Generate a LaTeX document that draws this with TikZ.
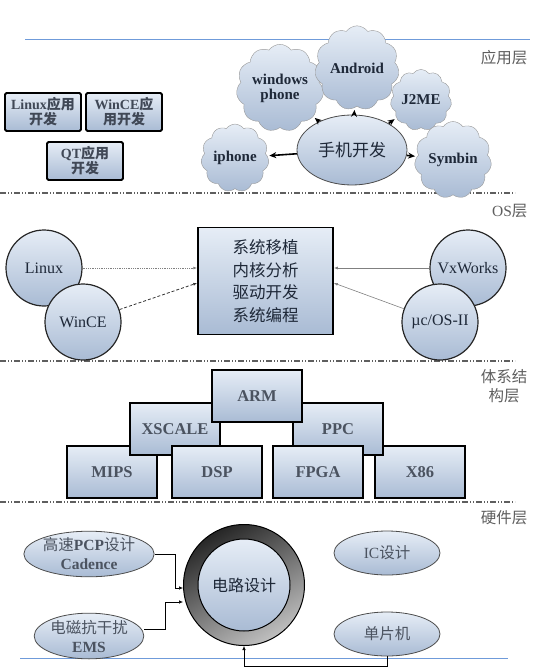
\documentclass[tikz,border=0pt]{standalone}
\usepackage{fontspec}
\setmainfont{Liberation Serif}
\newfontfamily\cjk{Noto Sans CJK SC}
\usetikzlibrary{positioning,shapes.geometric,shapes.symbols,arrows.meta}

\definecolor{fillhi}{HTML}{E6EDF6}
\definecolor{filllo}{HTML}{A9BBD4}
\definecolor{txt}{HTML}{1E2838}
\definecolor{layerblue}{HTML}{6F9BDA}
\definecolor{layergray}{HTML}{5E5E5E}

\begin{document}
\begin{tikzpicture}[x=1pt,y=-1pt,
    bluefill/.style={top color=fillhi, bottom color=filllo},
    appbox/.style={draw=black, line width=1.8pt, rounded corners=1.5pt, bluefill,
      minimum width=76, minimum height=38, align=center, inner sep=0pt,
      font=\fontsize{14}{15}\selectfont\bfseries, text=txt!85},
    puff/.style={cloud, cloud puffs=11, cloud puff arc=110, draw=gray!80, bluefill,
      inner sep=0pt, align=center, font=\fontsize{15}{15}\selectfont\bfseries, text=txt},
    fatarrow/.style={-{Stealth[length=7pt,width=6pt]}, line width=1.6pt, shorten >=2pt},
    osball/.style={circle, draw=black!85, line width=1.2pt, bluefill, minimum size=76,
      inner sep=0pt, font=\fontsize{16}{16}\selectfont, text=txt},
    chip/.style={draw=black, line width=1.1pt, bluefill, minimum width=90,
      minimum height=52, font=\fontsize{16.5}{16.5}\selectfont\bfseries, text=txt!80},
    hwoval/.style={ellipse, draw=black!70, line width=0.8pt, bluefill, minimum width=106,
      minimum height=44, inner sep=0pt, align=center, text=txt!80,
      font=\fontsize{15.5}{19}\selectfont},
    hwarrow/.style={-{Latex[length=4pt,width=3.5pt]}, line width=0.6pt},
    layerline/.style={layergray, line width=1.2pt,
      dash pattern=on 6pt off 2pt on 1pt off 2pt on 1pt off 2pt},
    layerlbl/.style={text=layergray, font=\fontsize{15.5}{19}\selectfont\cjk, align=center}
  ]
  \useasboundingbox (0,0) rectangle (540,671);

  % Layer borders
  \draw[layerblue, line width=1pt] (25,40) -- (530,40);
  \draw[layerline] (0,193) -- (515,193);
  \draw[layerline] (0,361) -- (515,361);
  \draw[layerline] (0,502) -- (515,502);
  \draw[layerblue, line width=1pt] (20,658) -- (508,658);

  % Layer names
  \node[layerlbl, anchor=east] (lapp) at (531,58) {应用层};
  \node[layerlbl, anchor=east] (los) at (531,211) {\rmfamily OS{\cjk 层}};
  \node[layerlbl] (larch) at (504,386) {体系结\\构层};
  \node[layerlbl, anchor=east] (lhw) at (531,518) {硬件层};

  % Application layer
  \node[appbox] (linuxapp) at (43,112) {Linux{\cjk 应用}\\{\cjk 开发}};
  \node[appbox] (winceapp) at (124,112) {WinCE{\cjk 应}\\{\cjk 用开发}};
  \node[appbox] (qtapp) at (85,161) {QT{\cjk 应用}\\{\cjk 开发}};

  \node[ellipse, draw=black!70, line width=0.8pt, bluefill, minimum width=110,
    minimum height=70, font=\fontsize{17}{17}\selectfont\cjk, text=txt] (phone) at (352,150) {手机开发};
  \node[puff, minimum width=64, minimum height=58] (iphone) at (235,158) {iphone};
  \node[puff, minimum width=78, minimum height=76] (winphone) at (280,88) {windows\\phone};
  \node[puff, minimum width=68, minimum height=68] (android) at (357,68) {Android};
  \node[puff, minimum width=50, minimum height=60] (j2me) at (421,100) {J2ME};
  \node[puff, minimum width=62, minimum height=56] (symbin) at (453,160) {Symbin};
  \foreach \c in {iphone,winphone,android,j2me,symbin}{
    \draw[fatarrow] (phone) -- (\c);
  }

  % OS layer
  \node[draw=black, line width=1.5pt, bluefill, minimum width=135, minimum height=107,
    align=center, font=\fontsize{16.5}{22.5}\selectfont\cjk, text=txt] (core) at (265.5,281)
    {系统移植\\内核分析\\驱动开发\\系统编程};
  \node[osball] (linux) at (44,268) {Linux};
  \node[osball] (wince) at (83,322) {WinCE};
  \node[osball] (vxworks) at (468,268) {VxWorks};
  \node[osball] (ucos) at (440,322) {\textmu c/OS-II};
  \draw[-{Latex[length=4pt]}, gray, line width=0.8pt, densely dotted] (linux) -- (linux -| core.west);
  \draw[-{Latex[length=4pt]}, black!80, line width=0.8pt, densely dashed] (wince) -- ([yshift=-2pt]core.west);
  \draw[-{Latex[length=4pt]}, gray, line width=0.8pt] (vxworks) -- (vxworks -| core.east);
  \draw[-{Latex[length=4pt]}, gray, line width=0.6pt] (ucos) -- ([yshift=-2pt]core.east);

  % Architecture layer
  \node[chip] (mips) at (112,472) {MIPS};
  \node[chip] (x86) at (420,472) {X86};
  \node[chip] (xscale) at (175,429) {XSCALE};
  \node[chip] (ppc) at (338,429) {PPC};
  \node[chip] (dsp) at (217,472) {DSP};
  \node[chip] (fpga) at (318,472) {FPGA};
  \node[chip] (arm) at (257,396) {ARM};

  % Hardware layer
  \node[hwoval] (pcb) at (89,554) {{\cjk 高速}\textbf{PCP}{\cjk 设计}\\{\bfseries Cadence}};
  \node[hwoval] (ems) at (89,636) {{\cjk 电磁抗干扰}\\{\bfseries EMS}};
  \node[hwoval] (icd) at (387,553) {IC{\cjk 设计}};
  \node[hwoval] (mcu) at (387,634) {\cjk 单片机};
  \node[circle, minimum size=121, line width=1pt, draw=black,
    left color=black!85, right color=black!25, shading angle=30] (circuit) at (244,585) {};
  \node[circle, minimum size=92, line width=1pt, draw=black, bluefill,
    font=\fontsize{16}{16}\selectfont\cjk, text=txt] (circuitin) at (circuit) {电路设计};
  \draw[hwarrow] (pcb.east) -- ++(21,0) |- ([yshift=-3pt]circuit.west);
  \draw[hwarrow] ([yshift=7pt]ems.east) -- ++(21,0) |- ([yshift=-17pt]circuit.west);
  \draw[hwarrow] (mcu.south) -- ++(0,10) -| (circuit.south);
\end{tikzpicture}
\end{document}
